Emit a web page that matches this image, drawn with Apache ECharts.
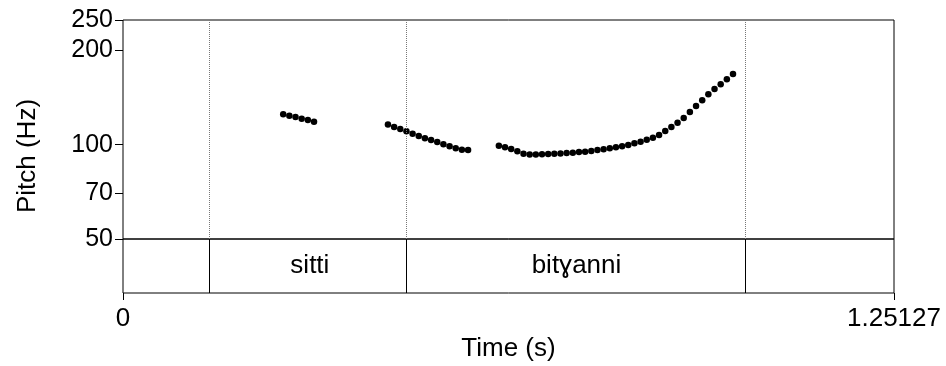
<!DOCTYPE html>
<html>
<head>
<meta charset="utf-8">
<script src="https://cdn.jsdelivr.net/npm/echarts@6/dist/echarts.min.js"></script>
<style>html,body{margin:0;padding:0;background:#fff;}#c{width:946px;height:366px;}</style>
</head>
<body>
<div id="c"></div>
<script>
var timeMax = 1.25127;
var boundaries = [0.144, 0.4625, 1.0094];
var tierLabels = ['sitti', 'bitɣanni'];
var yTicks = [50, 70, 100, 200, 250];
var seg1Start = 0.26;
var seg1 = [125.0, 123.7, 122.6, 121.1, 119.9, 118.4];
var seg2Start = 0.43;
var seg2 = [115.9, 113.9, 112.2, 110.4, 108.4, 106.6, 104.8, 103.5, 102.0, 100.3, 98.8, 97.4, 96.4, 96.2];
var seg3Start = 0.61;
var seg3 = [99.3, 98.1, 96.9, 95.3, 93.6, 93.0, 93.0, 93.2, 93.4, 93.6, 93.8, 94.1, 94.3, 94.8, 95.0, 95.5, 96.2, 96.7, 97.4, 98.1, 98.8, 99.8, 101.0, 102.2, 103.7, 105.3, 107.4, 110.6, 113.9, 117.5, 121.7, 127.2, 132.9, 138.5, 144.8, 150.6, 155.8, 161.7, 168.2];
var step = 0.01;

function pts(start, arr) {
  return arr.map(function (v, i) { return [+(start + i * step).toFixed(3), v]; });
}
var pitchData = pts(seg1Start, seg1).concat(pts(seg2Start, seg2), pts(seg3Start, seg3));
var bounds = [0].concat(boundaries, [timeMax]);
var tierData = tierLabels.map(function (t, i) {
  return [(bounds[i + 1] + bounds[i + 2]) / 2, 0.5, t];
});

var FONT = "'Liberation Sans', Arial, Helvetica, sans-serif";
var chart = echarts.init(document.getElementById('c'), null, { renderer: 'canvas' });
chart.setOption({
  animation: false,
  textStyle: { fontFamily: FONT, color: '#000' },
  grid: [
    { left: 123, top: 20, width: 771, height: 219, show: true, borderColor: '#000', borderWidth: 1, containLabel: false },
    { left: 123, top: 239, width: 771, height: 54, show: true, borderColor: '#000', borderWidth: 1, containLabel: false }
  ],
  xAxis: [
    { gridIndex: 0, type: 'value', min: 0, max: timeMax, axisLine: { show: false }, axisTick: { show: false }, axisLabel: { show: false }, splitLine: { show: false } },
    { gridIndex: 1, type: 'value', min: 0, max: timeMax, interval: timeMax,
      axisLine: { show: false },
      axisTick: { show: true, length: 7, lineStyle: { color: '#000', width: 1 } },
      axisLabel: { show: true, fontSize: 26, fontFamily: FONT, color: '#000', margin: 13,
        formatter: function (v) { return Math.abs(v) < 1e-9 ? '0' : '1.25127'; } },
      splitLine: { show: false },
      name: 'Time (s)', nameLocation: 'middle', nameGap: 43,
      nameTextStyle: { fontSize: 26, fontFamily: FONT, color: '#000' } }
  ],
  yAxis: [
    { gridIndex: 0, type: 'log', logBase: 10, min: 50, max: 250,
      axisLine: { show: false },
      axisTick: { show: true, length: 8, customValues: yTicks, lineStyle: { color: '#000' } },
      axisLabel: { show: true, customValues: yTicks, fontSize: 25, fontFamily: FONT, color: '#000', margin: 10 },
      splitLine: { show: false }, minorTick: { show: false } },
    { gridIndex: 1, type: 'value', min: 0, max: 1, show: false }
  ],
  graphic: [
    { type: 'text', rotation: Math.PI / 2, x: 28, y: 156,
      style: { text: 'Pitch (Hz)', font: "26px " + FONT, fill: '#000', textAlign: 'center', textVerticalAlign: 'middle' } }
  ],
  series: [
    { type: 'scatter', xAxisIndex: 0, yAxisIndex: 0, data: pitchData, symbolSize: 6.5, itemStyle: { color: '#000', opacity: 1 },
      markLine: { silent: true, symbol: 'none', label: { show: false },
        lineStyle: { type: 'dotted', color: '#777', width: 1 },
        data: boundaries.map(function (b) { return { xAxis: b }; }) } },
    { type: 'scatter', xAxisIndex: 1, yAxisIndex: 1, data: tierData, symbolSize: 0,
      itemStyle: { color: '#000', opacity: 1 },
      label: { show: true, position: 'inside', formatter: function (p) { return p.data[2]; },
        fontSize: 26, fontFamily: FONT, color: '#000', opacity: 1 },
      markLine: { silent: true, symbol: 'none', label: { show: false },
        lineStyle: { type: 'solid', color: '#000', width: 1, opacity: 1 },
        data: boundaries.map(function (b) { return { xAxis: b }; }) } }
  ]
});
</script>
</body>
</html>
